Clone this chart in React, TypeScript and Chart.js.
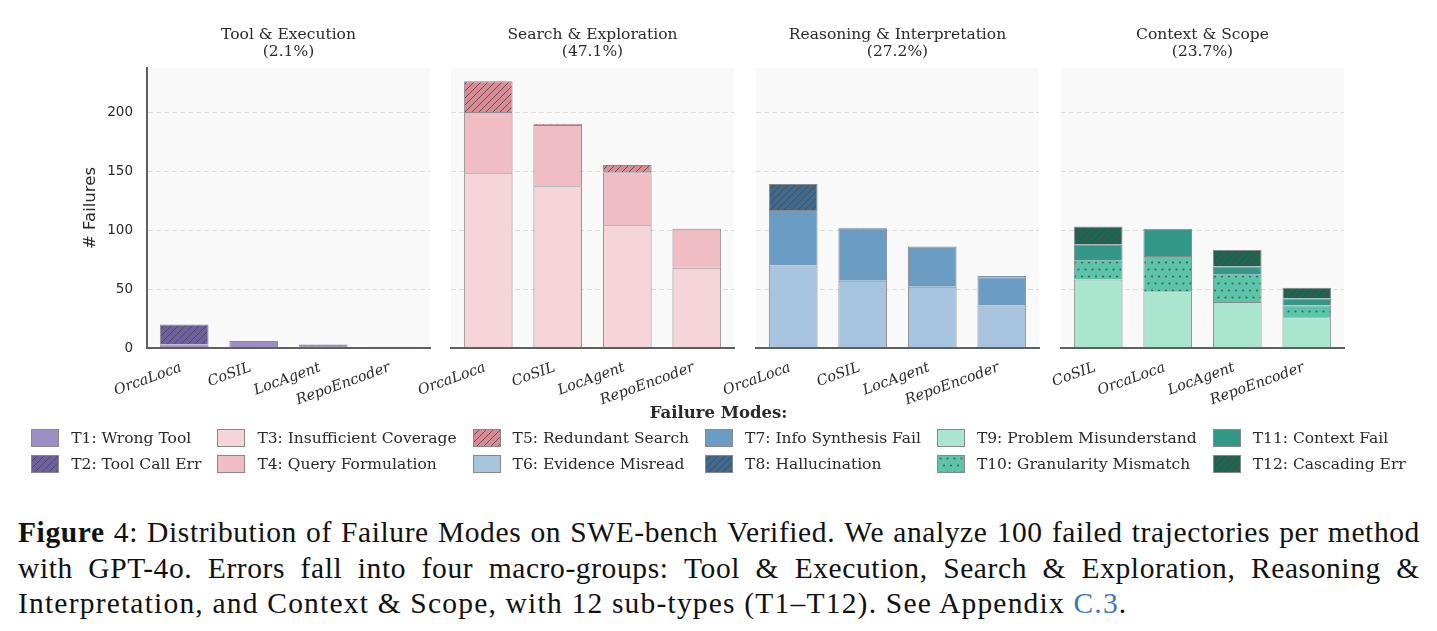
import React, { useEffect, useRef } from "react";
import { Chart, registerables } from "chart.js";

Chart.register(...registerables);

// ---------------- data ----------------
const methodOrder = ["OrcaLoca", "CoSIL", "LocAgent", "RepoEncoder"];
const methodOrderContext = ["CoSIL", "OrcaLoca", "LocAgent", "RepoEncoder"];

const groupNames = [
  "Tool & Execution",
  "Search & Exploration",
  "Reasoning & Interpretation",
  "Context & Scope",
];
const groupShares = ["(2.1%)", "(47.1%)", "(27.2%)", "(23.7%)"];

// counts per method, in the method order of the group that owns the mode
const t1WrongTool = [3, 6, 1, 0];
const t2ToolCallErr = [17, 0, 2, 1];
const t3InsufficientCoverage = [148, 137, 104, 68];
const t4QueryFormulation = [52, 52, 45, 33];
const t5RedundantSearch = [26, 1, 6, 0];
const t6EvidenceMisread = [70, 57, 52, 36];
const t7InfoSynthesisFail = [47, 44, 34, 24];
const t8Hallucination = [22, 1, 0, 1];
const t9ProblemMisunderstand = [58, 48, 39, 26];
const t10GranularityMismatch = [16, 30, 23, 10];
const t11ContextFail = [14, 23, 7, 6];
const t12CascadingErr = [15, 0, 14, 9];

const modeLabels = [
  "T1: Wrong Tool",
  "T2: Tool Call Err",
  "T3: Insufficient Coverage",
  "T4: Query Formulation",
  "T5: Redundant Search",
  "T6: Evidence Misread",
  "T7: Info Synthesis Fail",
  "T8: Hallucination",
  "T9: Problem Misunderstand",
  "T10: Granularity Mismatch",
  "T11: Context Fail",
  "T12: Cascading Err",
];
const modeCounts = [
  t1WrongTool,
  t2ToolCallErr,
  t3InsufficientCoverage,
  t4QueryFormulation,
  t5RedundantSearch,
  t6EvidenceMisread,
  t7InfoSynthesisFail,
  t8Hallucination,
  t9ProblemMisunderstand,
  t10GranularityMismatch,
  t11ContextFail,
  t12CascadingErr,
];
const groupMethods = [methodOrder, methodOrder, methodOrder, methodOrderContext];
const groupModes = [[0, 1], [2, 3, 4], [5, 6, 7], [8, 9, 10, 11]];
const yTickValues = [0, 50, 100, 150, 200];

const captionLine1 = "Distribution of Failure Modes on SWE-bench Verified. We analyze 100 failed trajectories per method";
const captionLine2 = "with GPT-4o. Errors fall into four macro-groups: Tool & Execution, Search & Exploration, Reasoning &";
const captionLine3 = "Interpretation, and Context & Scope, with 12 sub-types (T1–T12). See Appendix";

// ---------------- styles ----------------
const modeColors = [
  "#9d8fc6",
  "#6e5f9f",
  "#f5d5da",
  "#efbdc3",
  "#d98b96",
  "#a7c5df",
  "#6b9dc4",
  "#3f6a8d",
  "#a9e5cf",
  "#5cc4a9",
  "#349888",
  "#1f6652",
];
const modeHatches = ["", "/", "", "", "/", "", "", "/", "", ".", "", "/"];

const EDGE = "#8a8a8a";
const HATCH_INK = "rgba(70,70,70,0.8)";
const SPINE = "#5f5f5f";
const TEXT = "#2a2a2a";
const PLOT_BG = "#f9f9f9";
const GRID = "#dadada";

const PLOT_BOTTOM = 348;
const PLOT_WIDTH = 283;
const plotLefts = [147, 451, 756, 1061];
const CANVAS_H = 420;
const BAR_WIDTH = 0.7;

function makeFill(ctx: CanvasRenderingContext2D, color: string, hatch: string): string | CanvasPattern {
  if (!hatch) return color;
  const tile = document.createElement("canvas");
  const c = tile.getContext("2d")!;
  if (hatch === "/") {
    const p = 7;
    tile.width = p;
    tile.height = p;
    c.fillStyle = color;
    c.fillRect(0, 0, p, p);
    c.strokeStyle = HATCH_INK;
    c.lineWidth = 1;
    c.beginPath();
    c.moveTo(-1, 1);
    c.lineTo(1, -1);
    c.moveTo(0, p);
    c.lineTo(p, 0);
    c.moveTo(p - 1, p + 1);
    c.lineTo(p + 1, p - 1);
    c.stroke();
  } else {
    const w = 7;
    const h = 14;
    tile.width = w;
    tile.height = h;
    c.fillStyle = color;
    c.fillRect(0, 0, w, h);
    c.fillStyle = HATCH_INK;
    const dots = [
      [w / 2, h / 4],
      [0, (3 * h) / 4],
      [w, (3 * h) / 4],
    ];
    for (const [x, y] of dots) {
      c.beginPath();
      c.arc(x, y, 1.1, 0, Math.PI * 2);
      c.fill();
    }
  }
  return ctx.createPattern(tile, "repeat")!;
}

// largest stacked bar across every group, padded like matplotlib's auto-limits
const stackTotals = groupModes.flatMap((modes) =>
  [0, 1, 2, 3].map((m) => modes.reduce((s, k) => s + modeCounts[k][m], 0))
);
const yMax = Math.max(...stackTotals) * 1.05;
const xMin = -BAR_WIDTH / 2 - 0.05 * (3 + BAR_WIDTH);
const xMax = 3 + BAR_WIDTH / 2 + 0.05 * (3 + BAR_WIDTH);

const plotBackground = {
  id: "plotBackground",
  beforeDraw(chart: any) {
    const { ctx, chartArea: a } = chart;
    ctx.save();
    ctx.fillStyle = PLOT_BG;
    ctx.fillRect(a.left, a.top, a.right - a.left, a.bottom - a.top);
    ctx.restore();
  },
};

function Panel({ index }: { index: number }) {
  const ref = useRef<HTMLCanvasElement>(null);
  const first = index === 0;
  const canvasLeft = first ? 0 : plotLefts[index] - 70;
  const padLeft = first ? 0 : 70;
  const yWidth = first ? plotLefts[0] : 0;
  const canvasW = plotLefts[index] - canvasLeft + PLOT_WIDTH + 10;

  useEffect(() => {
    const ctx = ref.current!.getContext("2d")!;
    const methods = groupMethods[index];
    const datasets = groupModes[index].map((k) => ({
      label: modeLabels[k],
      data: modeCounts[k].map((v, i) => ({ x: i, y: v })),
      backgroundColor: makeFill(ctx, modeColors[k], modeHatches[k]),
      borderColor: EDGE,
      borderWidth: 1,
      borderSkipped: "start" as const,
      barPercentage: BAR_WIDTH,
      categoryPercentage: 1,
    }));

    const chart = new Chart(ctx, {
      type: "bar",
      data: { datasets },
      plugins: [plotBackground],
      options: {
        animation: false,
        responsive: false,
        events: [],
        layout: { padding: { left: padLeft, right: 10, top: 0, bottom: 0 } },
        plugins: {
          legend: { display: false },
          tooltip: { enabled: false },
          title: {
            display: true,
            fullSize: false,
            text: [groupNames[index], groupShares[index]],
            color: TEXT,
            font: { family: "DejaVu Serif", size: 15.5, weight: "normal", lineHeight: "17px" },
            padding: { top: 26.5, bottom: 7.5 },
          },
        },
        scales: {
          x: {
            type: "linear",
            stacked: true,
            min: xMin,
            max: xMax,
            bounds: "data",
            offset: false,
            grid: { display: false, drawTicks: false, offset: false },
            border: { display: true, color: SPINE, width: 2, z: 1 },
            afterBuildTicks: (axis: any) => {
              axis.ticks = methods.map((_, i) => ({ value: i }));
            },
            afterFit: (axis: any) => {
              axis.height = CANVAS_H - PLOT_BOTTOM;
            },
            ticks: {
              autoSkip: false,
              minRotation: 20,
              maxRotation: 20,
              padding: 11,
              labelOffset: -3,
              color: TEXT,
              font: { family: "DejaVu Serif", size: 14.5, style: "italic" },
              callback: (v: any) => methods[Number(v)] ?? "",
            },
          },
          y: {
            type: "linear",
            stacked: true,
            min: 0,
            max: yMax,
            bounds: "data",
            afterBuildTicks: (axis: any) => {
              axis.ticks = yTickValues.map((v) => ({ value: v }));
            },
            afterFit: (axis: any) => {
              axis.width = yWidth;
            },
            grid: { display: true, color: GRID, lineWidth: 1, drawTicks: false },
            border: { display: first, color: SPINE, width: 2, dash: [5, 3], z: 1 },
            ticks: {
              display: first,
              padding: 14,
              color: TEXT,
              font: { family: "DejaVu Sans", size: 13.5 },
            },
            title: {
              display: first,
              text: "# Failures",
              color: TEXT,
              font: { family: "DejaVu Sans", size: 16.5 },
              padding: { top: 81, bottom: 0 },
            },
          },
        },
      } as any,
    });
    return () => chart.destroy();
  }, [index]);

  return (
    <canvas
      ref={ref}
      width={canvasW}
      height={CANVAS_H}
      style={{ position: "absolute", left: canvasLeft, top: 0, width: canvasW, height: CANVAS_H }}
    />
  );
}

function Swatch({ mode }: { mode: number }) {
  const ref = useRef<HTMLCanvasElement>(null);
  useEffect(() => {
    const c = ref.current!.getContext("2d")!;
    c.clearRect(0, 0, 28, 18);
    c.fillStyle = makeFill(c, modeColors[mode], modeHatches[mode]);
    c.fillRect(0, 0, 28, 18);
    c.strokeStyle = EDGE;
    c.lineWidth = 1;
    c.strokeRect(0.5, 0.5, 27, 17);
  }, [mode]);
  return <canvas ref={ref} width={28} height={18} style={{ display: "block", width: 28, height: 18 }} />;
}

const legendColumns = [0, 1, 2, 3, 4, 5].map((c) => [2 * c, 2 * c + 1]);

const captionFont: React.CSSProperties = {
  fontFamily: '"Liberation Serif", serif',
  fontSize: 29.5,
  lineHeight: "35.5px",
  color: "#111",
  whiteSpace: "nowrap",
};

// a caption line whose words are spread edge to edge, as in typeset justified text
function JustifiedLine({ words }: { words: React.ReactNode[] }) {
  return (
    <div style={{ ...captionFont, letterSpacing: "0.6px", display: "flex", justifyContent: "space-between" }}>
      {words.map((w, i) => (
        <span key={i}>{w}</span>
      ))}
    </div>
  );
}

export default function App() {
  return (
    <div
      style={{
        position: "absolute",
        left: 0,
        top: 0,
        width: 1437,
        height: 631,
        background: "#fff",
        overflow: "hidden",
      }}
    >
      {groupNames.map((_, i) => (
        <Panel key={i} index={i} />
      ))}

      <div
        style={{
          position: "absolute",
          left: 0,
          top: 403,
          width: 1437,
          textAlign: "center",
          fontFamily: '"DejaVu Serif", serif',
          fontWeight: "bold",
          fontSize: 16.5,
          lineHeight: "19px",
          color: TEXT,
        }}
      >
        Failure Modes:
      </div>

      <div
        style={{
          position: "absolute",
          left: 0,
          top: 429,
          width: 1437,
          display: "flex",
          justifyContent: "center",
          gap: 16,
        }}
      >
        {legendColumns.map((col, ci) => (
          <div key={ci} style={{ display: "flex", flexDirection: "column", gap: 8 }}>
            {col.map((k) => (
              <div key={k} style={{ display: "flex", alignItems: "center", gap: 12, height: 18 }}>
                <Swatch mode={k} />
                <span
                  style={{
                    fontFamily: '"DejaVu Serif", serif',
                    fontSize: 15.5,
                    lineHeight: "18px",
                    color: TEXT,
                    whiteSpace: "nowrap",
                  }}
                >
                  {modeLabels[k]}
                </span>
              </div>
            ))}
          </div>
        ))}
      </div>

      <div style={{ position: "absolute", left: 18, top: 515, width: 1402 }}>
        <JustifiedLine words={[<b key="f">Figure</b>, "4:", ...captionLine1.split(" ")]} />
        <JustifiedLine words={captionLine2.split(" ")} />
        <div style={{ ...captionFont, letterSpacing: "1.2px" }}>
          {captionLine3} <span style={{ color: "#3b78c2" }}>C.3</span>.
        </div>
      </div>
    </div>
  );
}
